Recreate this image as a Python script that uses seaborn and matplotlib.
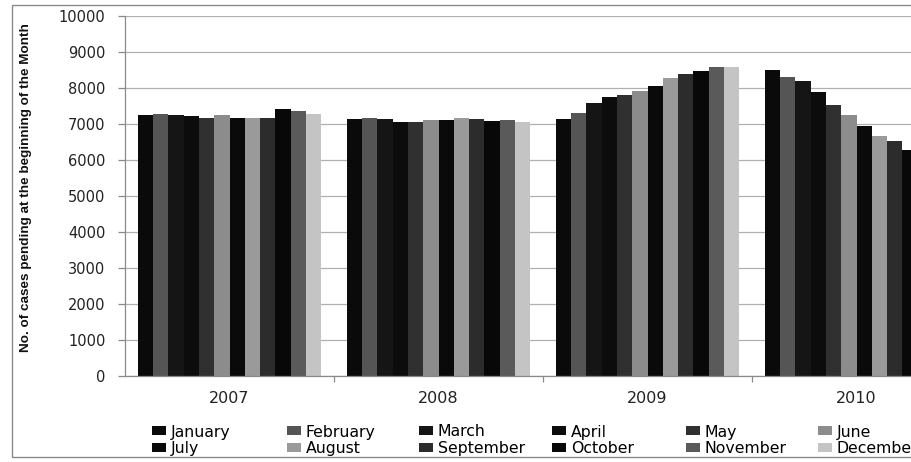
import numpy as np
import pandas as pd
import matplotlib
matplotlib.use("Agg")
import matplotlib.pyplot as plt
from matplotlib.patches import Patch, Rectangle
import seaborn as sns

years = ["2007", "2008", "2009", "2010"]
months = ["January", "February", "March", "April", "May", "June",
          "July", "August", "September", "October", "November", "December"]
pending_2007 = [7240, 7270, 7230, 7200, 7160, 7240, 7170, 7170, 7150, 7400, 7340, 7280]
pending_2008 = [7140, 7160, 7140, 7060, 7040, 7090, 7110, 7160, 7120, 7070, 7090, 7060]
pending_2009 = [7140, 7310, 7570, 7750, 7790, 7920, 8040, 8270, 8390, 8450, 8570, 8580]
# Nov/Dec 2010 lie outside the cropped picture and cannot be read
pending_2010 = [8490, 8290, 8180, 7890, 7520, 7240, 6940, 6650, 6510, 6270, np.nan, np.nan]
month_colors = ["#0a0a0a", "#555555", "#151515", "#0c0c0c", "#303030", "#8c8c8c",
                "#0a0a0a", "#9a9a9a", "#2c2c2c", "#080808", "#5a5a5a", "#c4c4c4"]

rows = []
for yr, vals in zip(years, [pending_2007, pending_2008, pending_2009, pending_2010]):
    for m, v in zip(months, vals):
        rows.append({"year": yr, "month": m, "cases": v})
df = pd.DataFrame(rows)

plt.rcParams["font.family"] = ["DejaVu Sans"]
W, H = 911, 462
fig = plt.figure(figsize=(W / 100, H / 100), dpi=100)
fig.patch.set_facecolor("white")

# axes: left 125px, right boundary of last category at ~961px (cropped at 911)
ax_left, ax_right, ax_top, ax_bottom = 125, 961, 15.7, 375.7
ax = fig.add_axes([ax_left / W, 1 - ax_bottom / H,
                   (ax_right - ax_left) / W, (ax_bottom - ax_top) / H])

sns.barplot(data=df, x="year", y="cases", hue="month", order=years,
            hue_order=months, palette=month_colors, width=0.88,
            saturation=1, legend=False, ax=ax, linewidth=0, errorbar=None)

ax.set_xlim(-0.5, 3.5)
ax.set_ylim(0, 10000)
ax.set_yticks(np.arange(0, 10001, 1000))
ax.yaxis.grid(True, color="#b0b0b0", linewidth=0.9)
ax.set_axisbelow(True)
for s in ["top", "right"]:
    ax.spines[s].set_visible(False)
for s in ["left", "bottom"]:
    ax.spines[s].set_color("#8a8a8a")
    ax.spines[s].set_linewidth(0.9)

ax.tick_params(axis="y", direction="out", length=5, width=0.9, color="#8a8a8a",
               pad=9, labelsize=10.5, labelcolor="#222222")
ax.tick_params(axis="x", which="major", length=0, pad=11, labelsize=11.5,
               labelcolor="#222222")
ax.set_xticks([0.5, 1.5, 2.5], minor=True)
ax.tick_params(axis="x", which="minor", direction="out", length=4, width=0.9,
               color="#8a8a8a")
ax.set_xlabel("")
ax.set_ylabel("No. of cases pending at the beginning of the Month",
              fontsize=9.7, fontweight="bold",
              family=["Liberation Sans", "DejaVu Sans"], color="#111111")
ax.yaxis.set_label_coords((32 - ax_left) / (ax_right - ax_left),
                          (ax_bottom - 188) / (ax_bottom - ax_top))

# legend: six columns placed at the reference's fixed column positions
col_x = [152, 287, 419, 552, 686, 818]
for c, x in enumerate(col_x):
    idx = [c, c + 6]
    handles = [Patch(facecolor=month_colors[i], edgecolor="none") for i in idx]
    labels = [months[i] for i in idx]
    fig.legend(handles, labels, loc="upper left",
               bbox_to_anchor=(x / W, 1 - 424.5 / H), frameon=False,
               fontsize=11.3, borderpad=0, borderaxespad=0,
               handlelength=0.9, handleheight=0.5, handletextpad=0.3,
               labelspacing=0.12)

# outer chart-area border (right side cropped away)
fig.patches.append(Rectangle((12 / W, 1 - 457 / H), (W + 40) / W, (457 - 5) / H,
                             transform=fig.transFigure, fill=False,
                             edgecolor="#8a8a8a", linewidth=1.0))

fig.savefig("out.png", dpi=100)
